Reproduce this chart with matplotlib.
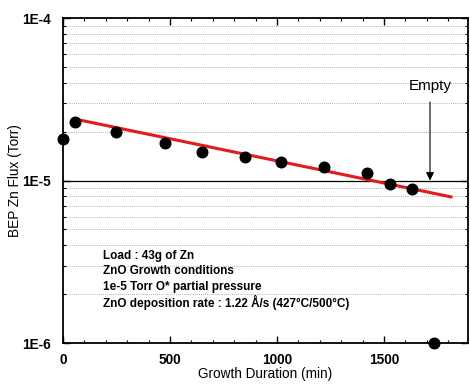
import matplotlib
matplotlib.use("Agg")
import matplotlib.pyplot as plt
from matplotlib.ticker import LogLocator, FixedLocator, MultipleLocator, FuncFormatter
from matplotlib.patches import Rectangle

plt.rcParams['font.family'] = ['Liberation Sans', 'DejaVu Sans']

# Data
duration = [0, 55, 250, 475, 650, 850, 1020, 1220, 1420, 1530, 1630, 1735]
flux = [1.8e-5, 2.29e-5, 1.99e-5, 1.70e-5, 1.50e-5, 1.40e-5, 1.30e-5, 1.21e-5, 1.11e-5, 9.5e-6, 8.9e-6, 1.0e-6]
fit_x = [50, 1820]
fit_y = [2.4e-5, 7.9e-6]
empty_x = 1715
empty_y_start = 3.05e-5
empty_y_end = 1.0e-5
info_lines = ["Load : 43g of Zn",
              "ZnO Growth conditions",
              "1e-5 Torr O* partial pressure",
              "ZnO deposition rate : 1.22 \u00c5/s (427\u00b0C/500\u00b0C)"]
xticks = [0, 500, 1000, 1500]
yticks = [1e-6, 1e-5, 1e-4]
ytick_labels = ["1E-6", "1E-5", "1E-4"]

fig = plt.figure(figsize=(4.7, 3.85), dpi=100)
ax = fig.add_axes([0.134, 0.109, 0.862, 0.844])
ax.set_yscale('log')
ax.set_xlim(0, 1893)
ax.set_ylim(1e-6, 1e-4)

# grid
ax.yaxis.set_minor_locator(LogLocator(base=10, subs=range(2, 10)))
ax.grid(which='minor', axis='y', linestyle=(0, (1, 1.5)), color='#999999', linewidth=0.6, zorder=0)
ax.axhline(1e-5, color='black', linewidth=0.9, zorder=1)

# white box hiding grid behind annotation text
ax.add_patch(Rectangle((0, 0), 0.778, 0.34, transform=ax.transAxes,
                       facecolor='white', edgecolor='none', zorder=1.5))

ax.plot(fit_x, fit_y, color='#e31a1c', linewidth=2.2, zorder=3, solid_capstyle='butt')
ax.scatter(duration, flux, s=58, color='black', zorder=4, clip_on=False)

ax.annotate('', xy=(empty_x, empty_y_end), xytext=(empty_x, empty_y_start),
            arrowprops=dict(arrowstyle='-|>', color='black', lw=0.8,
                            mutation_scale=12, shrinkA=0, shrinkB=0), zorder=5)
ax.text(empty_x, 3.45e-5, 'Empty', ha='center', va='bottom', fontsize=11)

# annotation lines, evenly spaced
top_y = 1 - (256 - 18) / 325.0
for i, line in enumerate(info_lines):
    ax.text(0.099, top_y - i * 15.4 / 325.0, line, transform=ax.transAxes,
            ha='left', va='center', fontsize=8.5, fontweight='bold', zorder=6)

ax.xaxis.set_major_locator(FixedLocator(xticks))
ax.xaxis.set_minor_locator(MultipleLocator(100))
ax.yaxis.set_major_locator(FixedLocator(yticks))
ax.yaxis.set_major_formatter(FuncFormatter(lambda v, p: ytick_labels[yticks.index(v)] if v in yticks else ''))
ax.yaxis.set_minor_formatter(FuncFormatter(lambda v, p: ''))

ax.tick_params(which='both', direction='in', top=True, right=True)
ax.tick_params(which='major', length=5, width=1.0, labelsize=9.8)
ax.tick_params(axis='y', which='major', pad=9)
ax.tick_params(axis='x', which='major', pad=7)
ax.tick_params(which='minor', length=2.5, width=0.8)
for lab in ax.get_xticklabels() + ax.get_yticklabels():
    lab.set_fontweight('bold')
for s in ax.spines.values():
    s.set_linewidth(1.3)

ax.set_xlabel('Growth Duration (min)', fontsize=9.8, labelpad=0)
ax.set_ylabel('BEP Zn Flux (Torr)', fontsize=9.8, labelpad=0)

fig.savefig('out.png', dpi=100)
